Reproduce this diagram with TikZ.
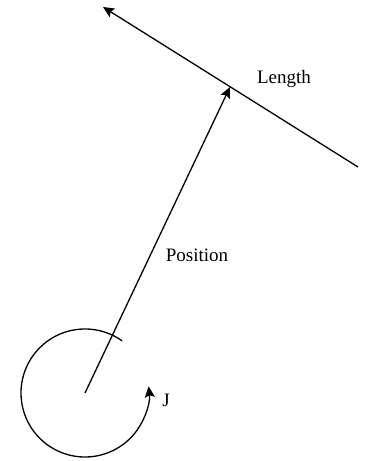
\documentclass[tikz,border=0pt]{standalone}
\usepackage{fontspec}
\setmainfont{Liberation Serif}
\usetikzlibrary{arrows.meta, positioning}

\newcommand{\lblfont}{\fontsize{19}{22}\selectfont}

\begin{document}
\begin{tikzpicture}[x=1pt, y=1pt, line width=1.3pt,
  tip/.style={-{Stealth[length=11pt, width=10pt, inset=2pt]}}]
\useasboundingbox (0,0) rectangle (367,461);
\coordinate (origin) at (85,68);
\coordinate (head) at (230,374);
\coordinate (lenend) at (358,294);
\coordinate (lenhead) at (103,454);
\node (length) at (284,382) [font=\lblfont] {Length};
\node (position) at (197,206) [font=\lblfont] {Position};
\node (jlabel) at (166,61) [font=\lblfont] {J};
\draw [tip] (lenend) -- (lenhead);
\draw [tip] (origin) -- (head);
\draw [tip] ([shift={(54.6:64)}]origin) arc [start angle=54.6, end angle=366, radius=64];
\end{tikzpicture}
\end{document}
